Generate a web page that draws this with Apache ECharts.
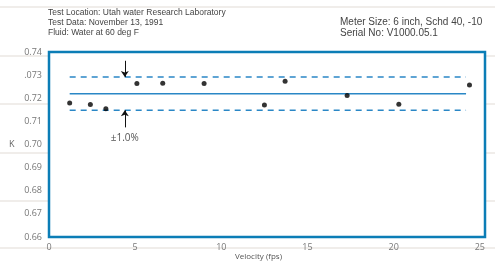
<!DOCTYPE html>
<html>
<head>
<meta charset="utf-8">
<script src="https://cdn.jsdelivr.net/npm/echarts@6/dist/echarts.min.js"></script>
<style>
  html, body { margin: 0; padding: 0; background: #fff; }
  #chart { width: 495px; height: 262px; }
</style>
</head>
<body>
<div id="chart"></div>
<script>
// measured K factor vs velocity
const velocity = [1.2, 2.4, 3.3, 5.1, 6.6, 9.0, 12.5, 13.7, 17.3, 20.3, 24.4];
const kFactor = [0.718, 0.7173, 0.7155, 0.7264, 0.7265, 0.7264, 0.7171, 0.7274, 0.7212, 0.7174, 0.7257];
const meanK = 0.722;
const bandPct = 0.01;
const lineRange = [1.2, 24.2];
const yTicks = ['0.66', '0.67', '0.68', '0.69', '0.70', '0.71', '0.72', '.073', '0.74'];
const arrowX = 4.4;

const blue = '#2a87c6';
const chart = echarts.init(document.getElementById('chart'));

const upper = meanK * (1 + bandPct);
const lower = meanK * (1 - bandPct);

// faint background rules behind the plot
const bgLines = [7, 56, 104, 153, 201, 248].map((y) => ({
  type: 'line',
  z: -10,
  shape: { x1: 0, y1: y, x2: 495, y2: y },
  style: { stroke: '#ebe7e3', lineWidth: 1.5 }
}));

chart.setOption({
  animation: false,
  backgroundColor: '#fff',
  textStyle: { fontFamily: 'Open Sans' },
  grid: {
    left: 49, right: 10, top: 52, bottom: 25,
    show: true,
    backgroundColor: '#fff',
    borderColor: '#0b7db6',
    borderWidth: 2.5,
    z: 1
  },
  xAxis: {
    type: 'value',
    min: 0,
    max: 25.3,
    interval: 5,
    axisLine: { show: false },
    axisTick: { show: false },
    splitLine: { show: false },
    axisLabel: {
      color: '#777',
      fontSize: 9,
      margin: 6,
      showMaxLabel: false,
      formatter: (v) => (v % 5 === 0 ? String(v) : '')
    }
  },
  yAxis: {
    type: 'value',
    min: 0.66,
    max: 0.74,
    interval: 0.01,
    axisLine: { show: false },
    axisTick: { show: false },
    splitLine: { show: false },
    axisLabel: {
      color: '#777',
      fontSize: 9,
      margin: 7,
      formatter: (v) => yTicks[Math.round((v - 0.66) * 100)]
    }
  },
  series: [
    {
      type: 'line',
      data: [[lineRange[0], meanK], [lineRange[1], meanK]],
      symbol: 'none',
      lineStyle: { color: blue, width: 1.5 },
      z: 3,
      markLine: {
        silent: true,
        symbol: ['none', 'arrow'],
        symbolSize: 6,
        label: { show: false },
        lineStyle: { color: '#111', width: 1, type: 'solid' },
        data: [
          [{ coord: [arrowX, 0.7362] }, { coord: [arrowX, upper] }],
          [{ coord: [arrowX, 0.7074] }, { coord: [arrowX, lower] }]
        ]
      },
      markPoint: {
        symbol: 'circle',
        symbolSize: 0,
        label: {
          show: true,
          formatter: '±1.0%',
          color: '#555',
          fontSize: 10,
          fontFamily: 'Open Sans'
        },
        data: [{ coord: [arrowX, 0.7026] }]
      }
    },
    {
      type: 'line',
      data: [[lineRange[0], upper], [lineRange[1], upper]],
      symbol: 'none',
      lineStyle: { color: blue, width: 1.5, type: [6, 5] },
      z: 3
    },
    {
      type: 'line',
      data: [[lineRange[0], lower], [lineRange[1], lower]],
      symbol: 'none',
      lineStyle: { color: blue, width: 1.5, type: [6, 5] },
      z: 3
    },
    {
      type: 'scatter',
      data: velocity.map((v, i) => [v, kFactor[i]]),
      symbolSize: 5,
      itemStyle: { color: '#000' },
      z: 4
    }
  ],
  graphic: bgLines.concat([
    {
      type: 'group',
      z: 10,
      children: [
        { type: 'text', left: 48, top: 8, style: { text: 'Test Location: Utah water Research Laboratory', font: '8.5px "Liberation Sans"', fill: '#444' } },
        { type: 'text', left: 48, top: 18, style: { text: 'Test Data: November 13, 1991', font: '8.5px "Liberation Sans"', fill: '#444' } },
        { type: 'text', left: 48, top: 28, style: { text: 'Fluid: Water at 60 deg F', font: '8.5px "Liberation Sans"', fill: '#444' } },
        { type: 'text', left: 340, top: 17, style: { text: 'Meter Size: 6 inch, Schd 40, -10', font: '10px "Liberation Sans"', fill: '#444' } },
        { type: 'text', left: 340, top: 28, style: { text: 'Serial No: V1000.05.1', font: '10px "Liberation Sans"', fill: '#444' } },
        { type: 'text', left: 9, top: 140, style: { text: 'K', font: '9px "Open Sans"', fill: '#666' } },
        { type: 'text', left: 235, top: 253, style: { text: 'Velocity (fps)', font: '8px "Open Sans"', fill: '#555' } }
      ]
    }
  ])
});
</script>
</body>
</html>
